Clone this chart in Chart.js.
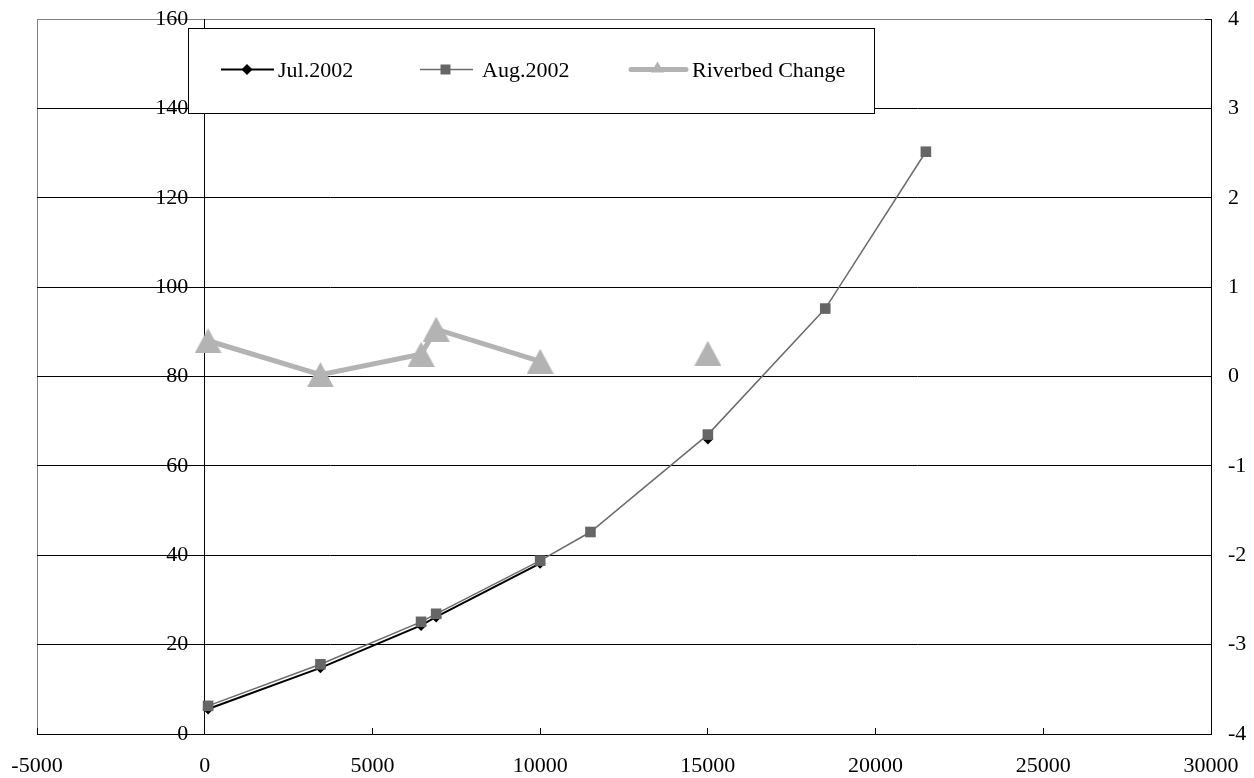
<!DOCTYPE html>
<html>
<head>
<meta charset="utf-8">
<script src="https://cdn.jsdelivr.net/npm/chart.js@4/dist/chart.umd.min.js"></script>
<style>
  html, body { margin: 0; padding: 0; background: #ffffff; }
  #wrap { width: 1254px; height: 778px; }
</style>
</head>
<body>
<div id="wrap"><canvas id="c" width="1254" height="778"></canvas></div>
<script>
// ---- data ----
const seriesNames = ['Jul.2002', 'Aug.2002', 'Riverbed Change'];

const julX = [100, 3450, 6450, 6900, 10000, 11500, 15000];
const julY = [5.6, 14.8, 24.3, 26.2, 38.2, null, 66.0];

const augX = [100, 3450, 6450, 6900, 10000, 11500, 15000, 18500, 21500];
const augY = [6.3, 15.6, 25.1, 26.9, 38.8, 45.2, 67.0, 95.2, 130.3];

const bedX = [100, 3450, 6450, 6900, 10000, 11500, 15000];
const bedY = [0.40, 0.02, 0.25, 0.53, 0.17, null, 0.26];

const xTicks = [-5000, 0, 5000, 10000, 15000, 20000, 25000, 30000];
const yLeftTicks = [0, 20, 40, 60, 80, 100, 120, 140, 160];
const yRightTicks = [-4, -3, -2, -1, 0, 1, 2, 3, 4];

// ---- styling ----
const FONT = '"Liberation Serif", "Times New Roman", serif';
const JUL_COLOR = '#000000';
const AUG_LINE = '#6b6b6b';
const AUG_FILL = '#666666';
const BED_COLOR = '#b3b3b3';

function pts(xs, ys) { return xs.map((x, i) => ({ x: x, y: ys[i] })); }

function makeTriangle(w, h, color) {
  const cv = document.createElement('canvas');
  cv.width = w; cv.height = h;
  const g = cv.getContext('2d');
  g.fillStyle = color;
  g.beginPath();
  g.moveTo(w / 2, 0);
  g.lineTo(w, h);
  g.lineTo(0, h);
  g.closePath();
  g.fill();
  return cv;
}
const triBig = makeTriangle(27, 25, BED_COLOR);

function noPad(s) { s.paddingLeft = 0; s.paddingRight = 0; s.paddingTop = 0; s.paddingBottom = 0; }

const framePlugin = {
  id: 'frame',
  beforeDraw(chart) {
    const a = chart.chartArea, ctx = chart.ctx;
    ctx.save();
    ctx.strokeStyle = '#808080';
    ctx.lineWidth = 1;
    ctx.beginPath();
    ctx.moveTo(Math.round(a.left) + 0.5, Math.round(a.bottom) + 0.5);
    ctx.lineTo(Math.round(a.left) + 0.5, Math.round(a.top) + 0.5);
    ctx.lineTo(Math.round(a.right) + 0.5, Math.round(a.top) + 0.5);
    ctx.stroke();
    ctx.restore();
  }
};

const legendPlugin = {
  id: 'boxLegend',
  afterDraw(chart) {
    const ctx = chart.ctx;
    const ds = chart.data.datasets;
    ctx.save();
    ctx.fillStyle = '#ffffff';
    ctx.fillRect(188.5, 28.5, 686, 85);
    ctx.strokeStyle = '#000000';
    ctx.lineWidth = 1;
    ctx.strokeRect(188.5, 28.5, 686, 85);
    const ly = 69.5;
    ctx.font = '22px ' + FONT;
    ctx.textBaseline = 'alphabetic';
    ctx.textAlign = 'left';
    // Jul
    ctx.strokeStyle = ds[0].borderColor; ctx.lineWidth = 2;
    ctx.beginPath(); ctx.moveTo(221, ly); ctx.lineTo(274, ly); ctx.stroke();
    ctx.fillStyle = ds[0].pointBackgroundColor;
    ctx.beginPath(); ctx.moveTo(247, ly - 5.5); ctx.lineTo(252.5, ly); ctx.lineTo(247, ly + 5.5); ctx.lineTo(241.5, ly); ctx.closePath(); ctx.fill();
    ctx.fillStyle = '#000000'; ctx.fillText(ds[0].label, 278, 77);
    // Aug
    ctx.strokeStyle = ds[1].borderColor; ctx.lineWidth = 1.5;
    ctx.beginPath(); ctx.moveTo(420, ly); ctx.lineTo(473, ly); ctx.stroke();
    ctx.fillStyle = ds[1].pointBackgroundColor;
    ctx.fillRect(440.5, ly - 5, 10, 10);
    ctx.fillStyle = '#000000'; ctx.fillText(ds[1].label, 482, 77);
    // Riverbed
    ctx.strokeStyle = ds[2].borderColor; ctx.lineWidth = 5; ctx.lineCap = 'round';
    ctx.beginPath(); ctx.moveTo(631, ly); ctx.lineTo(686, ly); ctx.stroke();
    ctx.fillStyle = ds[2].borderColor;
    ctx.beginPath(); ctx.moveTo(657.5, ly - 8); ctx.lineTo(664, ly + 3); ctx.lineTo(651, ly + 3); ctx.closePath(); ctx.fill();
    ctx.fillStyle = '#000000'; ctx.fillText(ds[2].label, 692, 77);
    ctx.restore();
  }
};

new Chart(document.getElementById('c'), {
  type: 'line',
  data: {
    datasets: [
      {
        label: seriesNames[0],
        data: pts(julX, julY),
        yAxisID: 'y',
        borderColor: JUL_COLOR,
        backgroundColor: JUL_COLOR,
        pointBackgroundColor: JUL_COLOR,
        pointBorderColor: JUL_COLOR,
        borderWidth: 2,
        pointStyle: 'rectRot',
        pointRadius: 5.5,
        pointBorderWidth: 0,
        tension: 0,
        spanGaps: false,
        order: 2
      },
      {
        label: seriesNames[1],
        data: pts(augX, augY),
        yAxisID: 'y',
        borderColor: AUG_LINE,
        backgroundColor: AUG_FILL,
        pointBackgroundColor: AUG_FILL,
        pointBorderColor: AUG_FILL,
        borderWidth: 1.5,
        pointStyle: 'rect',
        pointRadius: 7.5,
        pointBorderWidth: 0,
        tension: 0,
        order: 1
      },
      {
        label: seriesNames[2],
        data: pts(bedX, bedY),
        yAxisID: 'y2',
        borderColor: BED_COLOR,
        backgroundColor: BED_COLOR,
        pointBackgroundColor: BED_COLOR,
        pointBorderColor: BED_COLOR,
        borderWidth: 5,
        pointStyle: triBig,
        pointRadius: 13,
        tension: 0,
        spanGaps: false,
        order: 3
      }
    ]
  },
  options: {
    responsive: false,
    animation: false,
    events: [],
    layout: { padding: { top: 19, left: 37, right: 0, bottom: 0 } },
    plugins: { legend: { display: false }, tooltip: { enabled: false } },
    scales: {
      x: {
        type: 'linear',
        position: 'bottom',
        min: -5000, max: 30000,
        afterBuildTicks(s) { s.ticks = xTicks.map(v => ({ value: v })); },
        afterFit(s) { s.height = 44; noPad(s); },
        ticks: { font: { family: FONT, size: 22 }, color: '#000000', padding: 25, maxRotation: 0, autoSkip: false,
                 callback: (v) => String(v) },
        grid: { drawOnChartArea: false, drawTicks: true, tickLength: -6, color: '#000000' },
        border: { display: true, color: '#000000', width: 1 }
      },
      y: {
        type: 'linear',
        position: { x: 0 },
        min: 0, max: 160,
        afterBuildTicks(s) { s.ticks = yLeftTicks.map(v => ({ value: v })); },
        afterFit(s) { noPad(s); },
        ticks: { font: { family: FONT, size: 22 }, color: '#000000', autoSkip: false,
                 callback: (v) => String(v) + '\u2002\u0020' },
        grid: {
          color: (c) => (c.tick && c.tick.value === 160) ? '#808080' : '#000000',
          lineWidth: 1,
          drawTicks: true,
          tickLength: 7
        },
        border: { display: true, color: '#000000', width: 1 }
      },
      y2: {
        type: 'linear',
        position: 'right',
        min: -4, max: 4,
        afterBuildTicks(s) { s.ticks = yRightTicks.map(v => ({ value: v })); },
        afterFit(s) { s.width = 43; noPad(s); },
        ticks: { font: { family: FONT, size: 22 }, color: '#000000', padding: 23, autoSkip: false,
                 callback: (v) => String(v) },
        grid: { drawOnChartArea: false, drawTicks: true, tickLength: -6, color: '#000000' },
        border: { display: true, color: '#000000', width: 1 }
      }
    }
  },
  plugins: [framePlugin, legendPlugin]
});
</script>
</body>
</html>
